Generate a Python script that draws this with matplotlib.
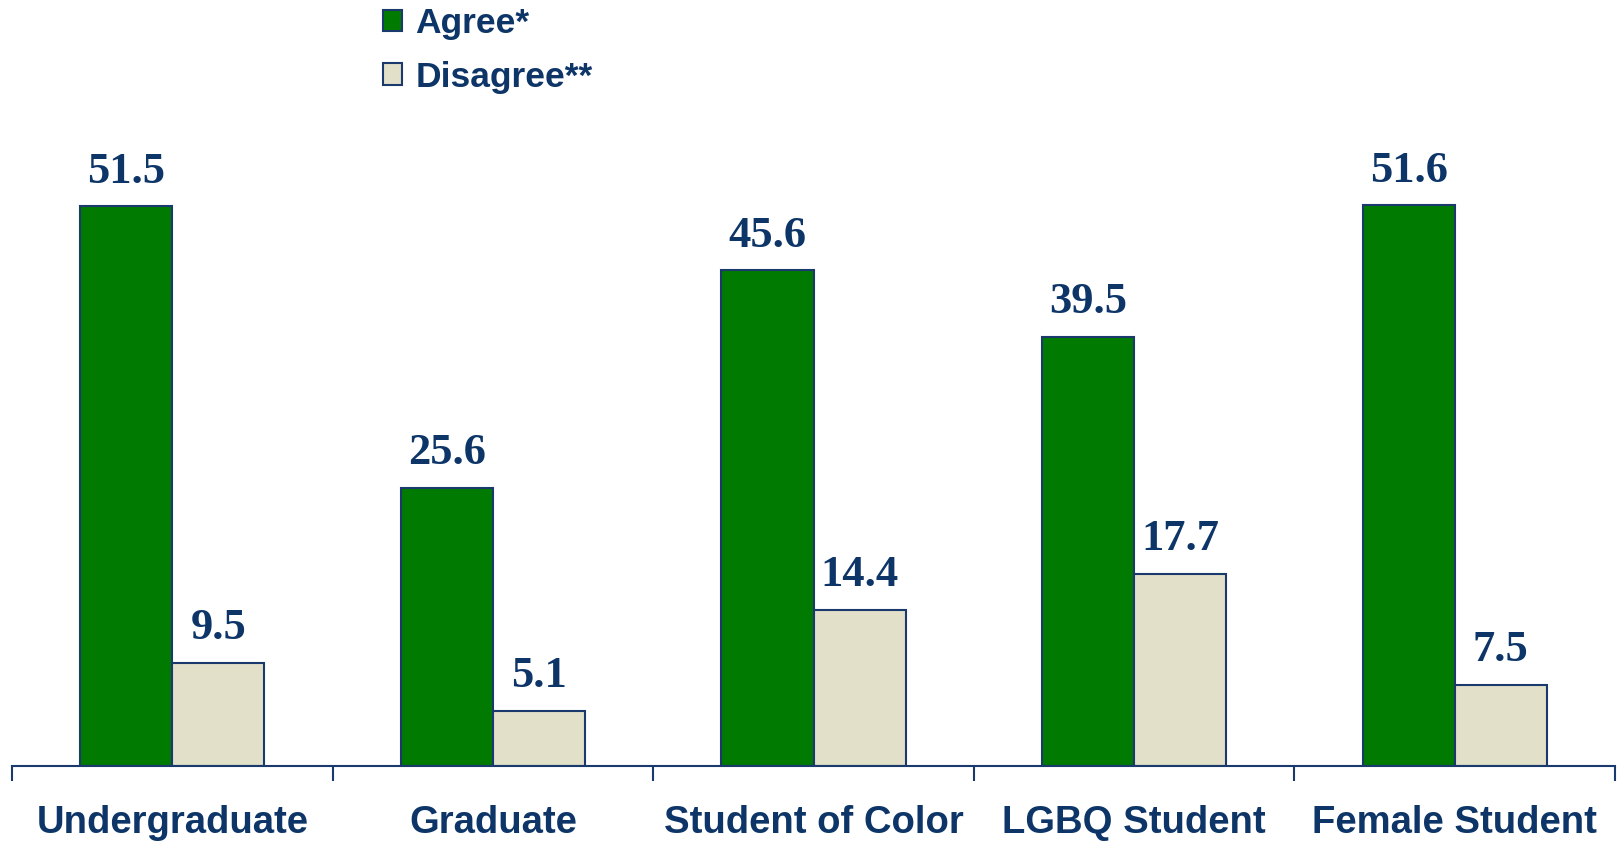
import matplotlib
matplotlib.use("Agg")
import matplotlib.pyplot as plt
from matplotlib.patches import Patch
import numpy as np

categories = ["Undergraduate", "Graduate", "Student of Color", "LGBQ Student", "Female Student"]
agree = [51.5, 25.6, 45.6, 39.5, 51.6]
disagree = [9.5, 5.1, 14.4, 17.7, 7.5]
series_names = ["Agree*", "Disagree**"]

GREEN = "#007A00"
BEIGE = "#E2E0C8"
EDGE = "#1A3A6E"
NAVY = "#0D3567"

W, H = 1622, 841
fig = plt.figure(figsize=(W / 100, H / 100), dpi=100)
ax = fig.add_axes([12 / W, (H - 766) / H, (1615 - 12) / W, 652 / H])

x = np.arange(len(categories))
bw = 0.287
b1 = ax.bar(x - bw / 2, agree, bw, color=GREEN, edgecolor=EDGE, linewidth=1.5, zorder=2)
b2 = ax.bar(x + bw / 2, disagree, bw, color=BEIGE, edgecolor=EDGE, linewidth=1.5, zorder=2)

for bars, vals in ((b1, agree), (b2, disagree)):
    for r, v in zip(bars, vals):
        ax.annotate(f"{v:.1f}", (r.get_x() + r.get_width() / 2, v),
                    xytext=(0, 25), textcoords="offset points",
                    ha="center", va="center", fontsize=32, fontweight="bold",
                    family="Liberation Serif", color=NAVY)

ax.set_xlim(-0.5, len(categories) - 0.5)
ax.set_ylim(0, 60)
for s in ("top", "right", "left"):
    ax.spines[s].set_visible(False)
ax.spines["bottom"].set_color(EDGE)
ax.spines["bottom"].set_linewidth(1.5)
ax.set_yticks([])

ax.set_xticks(np.arange(len(categories) + 1) - 0.5)
ax.set_xticklabels([])
ax.tick_params(axis="x", which="major", length=11, width=1.5, color=EDGE, direction="out")
ax.set_xticks(x, minor=True)
ax.set_xticklabels(categories, minor=True, fontsize=27.5, fontweight="bold",
                   family="Liberation Sans", color=NAVY)
ax.tick_params(axis="x", which="minor", length=0, pad=28)

handles = [Patch(facecolor=GREEN, edgecolor=EDGE, linewidth=1.5),
           Patch(facecolor=BEIGE, edgecolor=EDGE, linewidth=1.5)]
leg = fig.legend(handles, series_names, loc="upper left",
                 bbox_to_anchor=(383 / W, 1 - 7 / H), frameon=False,
                 borderpad=0, borderaxespad=0, handlelength=0.54, handleheight=0.54,
                 handletextpad=0.37, labelspacing=0.58,
                 prop={"family": "Liberation Sans", "weight": "bold", "size": 25.5})
for t in leg.get_texts():
    t.set_color(NAVY)

fig.savefig("out.png", dpi=100)
